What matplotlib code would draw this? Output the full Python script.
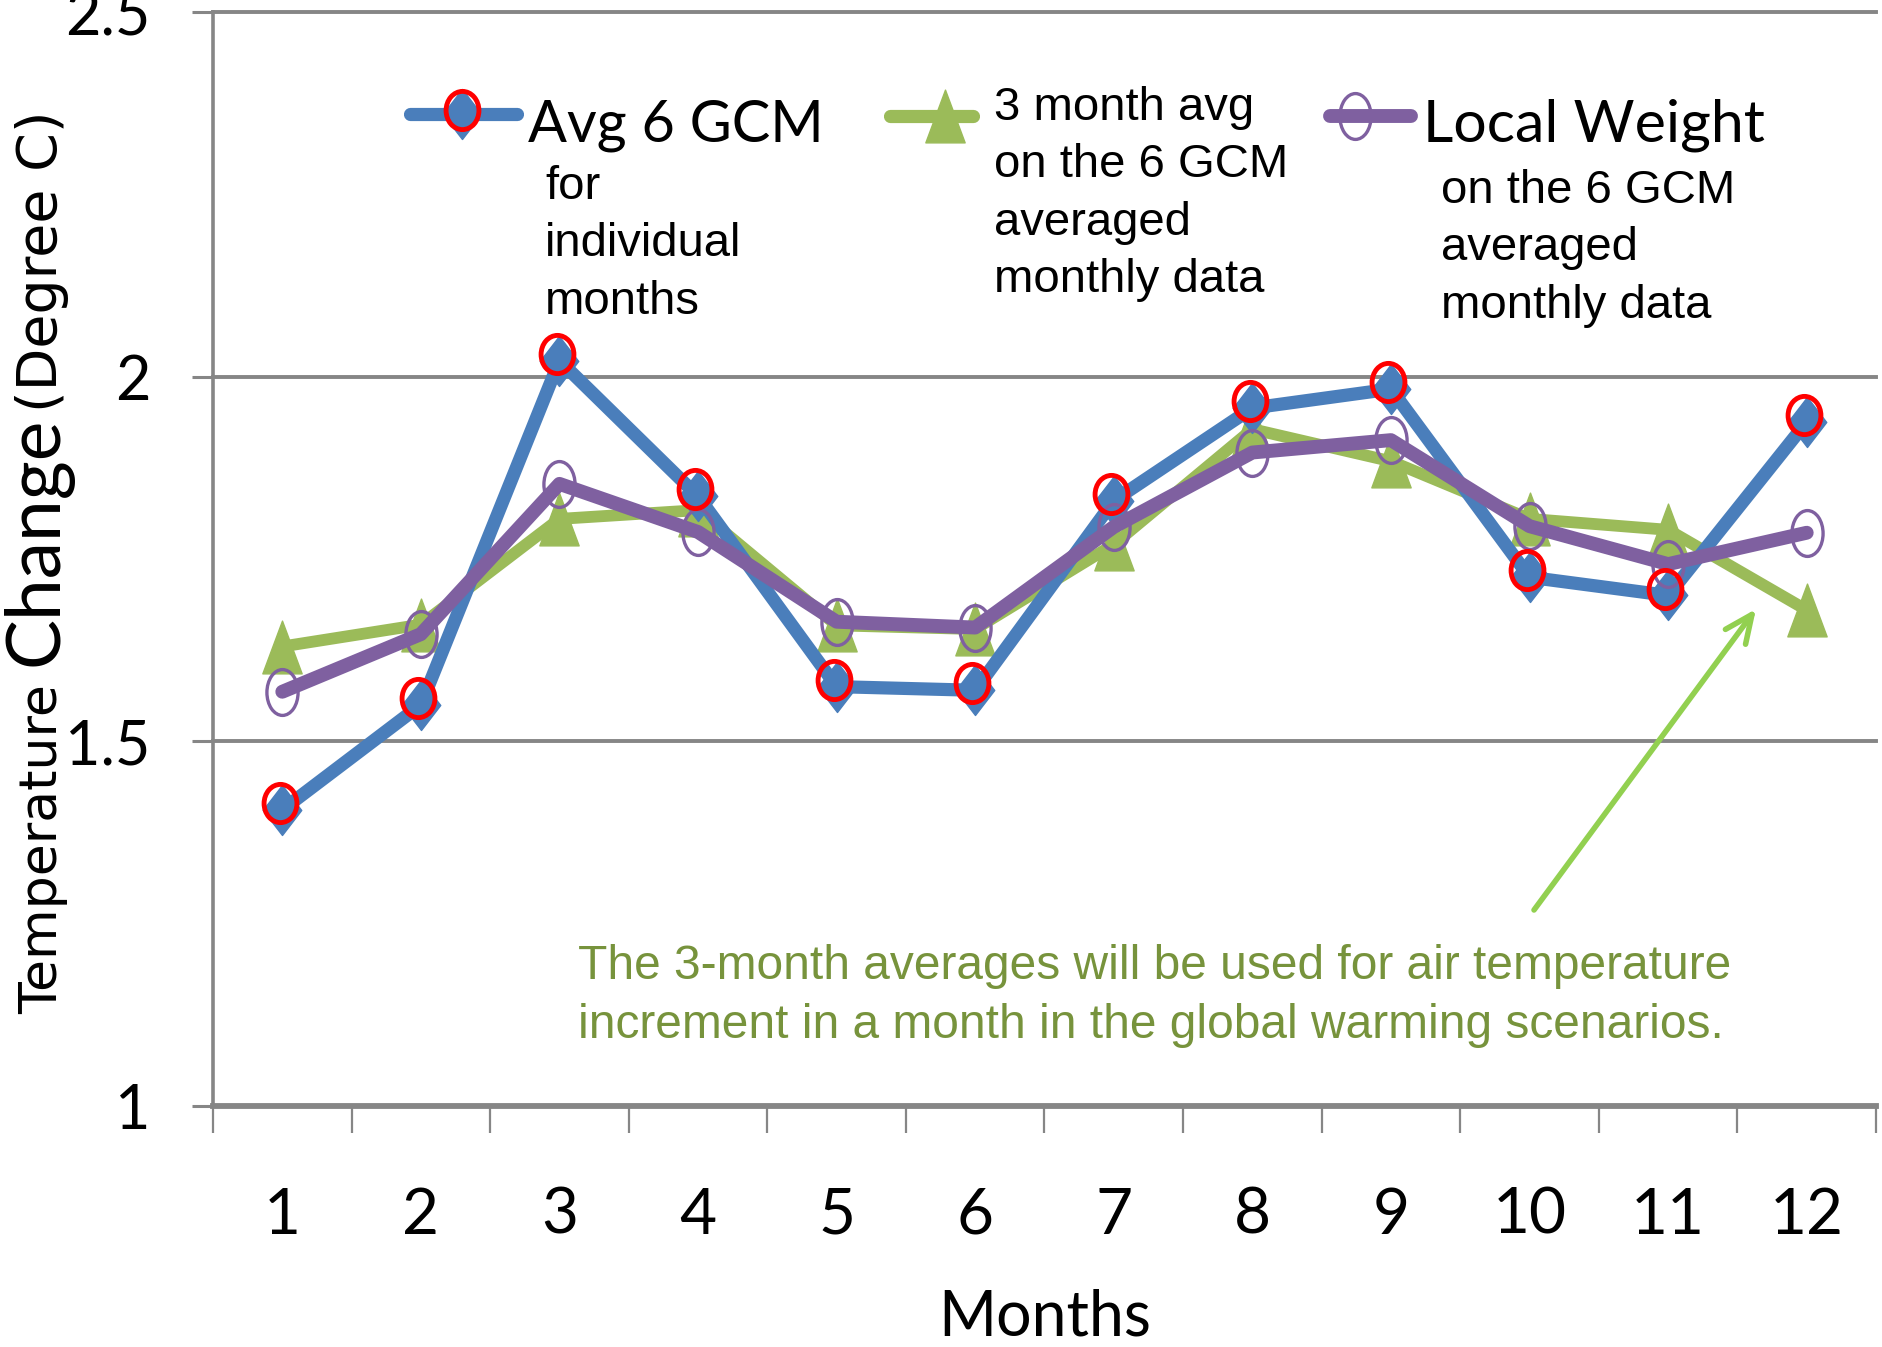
import matplotlib
matplotlib.use('Agg')
import matplotlib.pyplot as plt
from matplotlib.lines import Line2D
from matplotlib.path import Path
from matplotlib.transforms import Affine2D, ScaledTranslation

# ---------------- data ----------------
months = list(range(1, 13))
month_labels = [str(m) for m in months]
avg_6gcm = [1.406, 1.550, 2.022, 1.836, 1.575, 1.570, 1.830, 1.957, 1.983, 1.725, 1.700, 1.938]
three_month_avg = [1.630, 1.660, 1.805, 1.817, 1.659, 1.654, 1.770, 1.928, 1.884, 1.805, 1.790, 1.680]
local_weight = [1.568, 1.647, 1.853, 1.787, 1.664, 1.656, 1.794, 1.896, 1.913, 1.795, 1.743, 1.786]
y_ticks = [1, 1.5, 2, 2.5]
y_tick_labels = ['1', '1.5', '2', '2.5']

# ---------------- style ----------------
W, H = 1883, 1347
BLUE = '#4A7EBB'
GREEN = '#9BBB59'
PURPLE = '#7F60A0'
RED = '#FF0000'
GRID = '#868686'
NOTE = '#77933C'
ARROW = '#92D050'
CAL = ['Lato', 'DejaVu Sans']
ARIAL = ['Liberation Sans', 'DejaVu Sans']
VERD = ['DejaVu Sans']


def fx(px):
    return px / W


def fy(py):
    return 1 - py / H


# markers (tall shapes, as in the reference)
diamond = Path([(0, 1), (0.77, 0), (0, -1), (-0.77, 0), (0, 1)],
               [Path.MOVETO, Path.LINETO, Path.LINETO, Path.LINETO, Path.CLOSEPOLY])
triangle = Path([(0, 1), (-0.745, -1), (0.745, -1), (0, 1)],
                [Path.MOVETO, Path.LINETO, Path.LINETO, Path.CLOSEPOLY])
purple_ring = Affine2D().scale(0.68, 1).transform_path(Path.unit_circle())
red_ring = Affine2D().scale(0.86, 1).transform_path(Path.unit_circle())

BLUE_MK = dict(marker=diamond, ms=36, mfc=BLUE, mec=BLUE, mew=1)
GREEN_MK = dict(marker=triangle, ms=38, mfc=GREEN, mec=GREEN, mew=1)
PURPLE_MK = dict(marker=purple_ring, ms=33, mfc='none', mec=PURPLE, mew=2.4)
RED_MK = dict(marker=red_ring, ms=27.5, mfc='none', mec=RED, mew=3.5)

fig = plt.figure(figsize=(W / 100, H / 100), dpi=100)
ax = fig.add_axes([fx(213), fy(1106), (1876 - 213) / W, (1106 - 12) / H])

line_kw = dict(solid_joinstyle='round', solid_capstyle='round', clip_on=False)
ax.plot(months, three_month_avg, color=GREEN, lw=8.5, zorder=3, **GREEN_MK, **line_kw)
ax.plot(months, avg_6gcm, color=BLUE, lw=9.5, zorder=4, **BLUE_MK, **line_kw)
ax.plot(months, local_weight, color=PURPLE, lw=10, zorder=5, **PURPLE_MK, **line_kw)
# red highlight rings, drawn slightly above-left of the blue diamonds as in the reference
ring_shift = ax.transData + ScaledTranslation(-2 / 72, 5 / 72, fig.dpi_scale_trans)
ax.plot(months, avg_6gcm, ls='none', zorder=6, clip_on=False, transform=ring_shift, **RED_MK)

ax.set_xlim(0.5, 12.5)
ax.set_ylim(1, 2.5)
ax.set_xticks(months)
ax.set_xticklabels(month_labels, fontfamily=CAL, fontsize=46)
ax.set_xticks([m + 0.5 for m in [0] + months], minor=True)
ax.tick_params(axis='x', which='major', length=0, pad=58)
ax.tick_params(axis='x', which='minor', length=19.5, width=1.6, color=GRID, direction='out')
ax.set_yticks(y_ticks)
ax.set_yticklabels(y_tick_labels, fontfamily=CAL, fontsize=44)
ax.tick_params(axis='y', length=15, width=2.2, color=GRID, direction='out', pad=30)

for s in ['top', 'right']:
    ax.spines[s].set_visible(False)
ax.spines['left'].set_color(GRID)
ax.spines['left'].set_linewidth(2.6)
ax.spines['bottom'].set_color(GRID)
ax.spines['bottom'].set_linewidth(4.2)
ax.set_axisbelow(True)
ax.yaxis.grid(True, color=GRID, lw=2.8)
for gl in ax.get_ygridlines():
    gl.set_clip_on(False)

ax.set_xlabel('Months', fontfamily=CAL, fontsize=45)
ax.xaxis.set_label_coords((1045 - 213) / 1663, (1106 - 1318) / 1094)
ax.xaxis.label.set_va('center')

# y label in mixed sizes
ylab_kw = dict(rotation=90, rotation_mode='anchor', ha='left', va='baseline')
fig.text(fx(57), fy(1014), 'Temperature', fontfamily=VERD, fontsize=37.5, **ylab_kw)
fig.text(fx(57), fy(666), 'Change', fontfamily=CAL, fontsize=54, **ylab_kw)
fig.text(fx(57), fy(412), '(Degree C)', fontfamily=VERD, fontsize=40, **ylab_kw)

# ---------------- custom legend ----------------
def handle(x0, x1, y, color, lw, marker_x, mk):
    fig.add_artist(Line2D([fx(x0), fx(x1)], [fy(y), fy(y)], color=color, lw=lw,
                          solid_capstyle='round', transform=fig.transFigure))
    fig.add_artist(Line2D([fx(marker_x)], [fy(y)], ls='none',
                          transform=fig.transFigure, **mk))


handle(410, 517, 114, BLUE, 9.5, 462, BLUE_MK)
fig.add_artist(Line2D([fx(462)], [fy(110)], ls='none', transform=fig.transFigure, **RED_MK))
handle(890, 973, 116, GREEN, 9.5, 945, GREEN_MK)
handle(1330, 1411, 116, PURPLE, 10, 1355, PURPLE_MK)

fig.text(fx(528), fy(142), 'Avg 6 GCM', fontfamily=CAL, fontsize=41.5, va='baseline')
fig.text(fx(545), fy(165), 'for\nindividual\nmonths', fontfamily=ARIAL, fontsize=34,
         va='top', linespacing=1.39)
fig.text(fx(994), fy(86), '3 month avg\non the 6 GCM\naveraged\nmonthly data',
         fontfamily=ARIAL, fontsize=34, va='top', linespacing=1.39)
fig.text(fx(1423), fy(142), 'Local Weight', fontfamily=CAL, fontsize=42.5, va='baseline')
fig.text(fx(1441), fy(169), 'on the 6 GCM\naveraged\nmonthly data', fontfamily=ARIAL,
         fontsize=34, va='top', linespacing=1.39)

# ---------------- note and arrow ----------------
fig.text(fx(578), fy(944),
         'The 3-month averages will be used for air temperature\n'
         'increment in a month in the global warming scenarios.',
         fontfamily=ARIAL, fontsize=34.5, color=NOTE, va='top', linespacing=1.4)
ax.annotate('', xy=(fx(1756), fy(609)), xytext=(fx(1534), fy(910)),
            xycoords='figure fraction', textcoords='figure fraction',
            arrowprops=dict(arrowstyle='->,head_length=2.0,head_width=0.9',
                            color=ARROW, lw=4, mutation_scale=10,
                            shrinkA=0, shrinkB=0))

fig.savefig('out.png', dpi=100)
